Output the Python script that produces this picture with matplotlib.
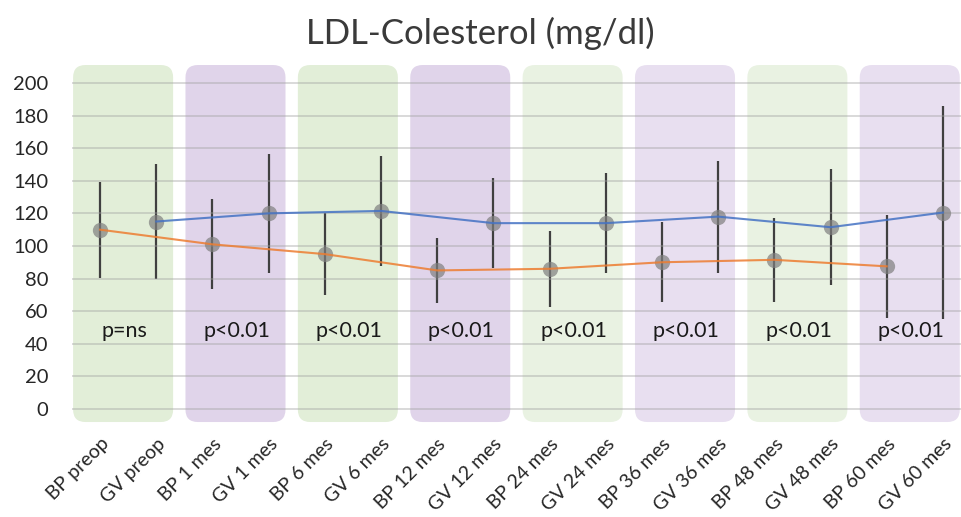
# ------------------------------------------------------------------------------
# LDL-Colesterol over time, BP vs GV, mean +/- sd with p-value per pair
# ------------------------------------------------------------------------------

from matplotlib import pylab as plt
from matplotlib import rcParams as rcp
from matplotlib.patches import FancyBboxPatch
import numpy as np

rcp['font.family'] = ['Lato', 'DejaVu Sans']

# ------------------------------------------------------------------------------
# Data
# ------------------------------------------------------------------------------

labels = ['BP preop', 'GV preop', 'BP 1 mes', 'GV 1 mes', 'BP 6 mes', 'GV 6 mes',
          'BP 12 mes', 'GV 12 mes', 'BP 24 mes', 'GV 24 mes', 'BP 36 mes', 'GV 36 mes',
          'BP 48 mes', 'GV 48 mes', 'BP 60 mes', 'GV 60 mes']

bp_mean = [110, 101, 95, 85, 86, 90, 91.5, 87.5]
bp_sd = [29.5, 27.7, 25.2, 20, 23.2, 24.5, 25.7, 31.6]

gv_mean = [115, 120, 121.5, 114, 114, 118, 111.5, 120.5]
gv_sd = [35, 36.5, 33.5, 27.7, 30.8, 34.3, 35.7, 65.3]

p_labels = ['p=ns', 'p<0.01', 'p<0.01', 'p<0.01', 'p<0.01', 'p<0.01', 'p<0.01', 'p<0.01']

box_colors = ['#e2eed8', '#e0d4ea', '#e2eed8', '#e0d4ea',
              '#e9f2e2', '#e8dff0', '#e9f2e2', '#e8dff0']

x_bp = np.arange(0, len(labels), 2)
x_gv = np.arange(1, len(labels), 2)

# ------------------------------------------------------------------------------
# Plot
# ------------------------------------------------------------------------------

fig = plt.figure(figsize=(9.61, 5.17), dpi=100)
ax = fig.add_axes([0.0749, 0.1774, 0.9355, 0.700])
ax.set_xlim(-0.5, 15.5)
ax.set_ylim(-10, 212)

# background boxes, one per BP/GV pair (rounded in pixels)
aspect = (222. / 362.) / (16. / 899.)
for k, c in enumerate(box_colors):
    box = FancyBboxPatch((2 * k - 0.48, -8), 1.78, 219,
                         boxstyle="round,pad=0,rounding_size=0.22",
                         mutation_aspect=aspect, fc=c, ec='none',
                         zorder=0, clip_on=False)
    ax.add_patch(box)

ax.set_yticks(np.arange(0, 201, 20))
ax.grid(axis='y', color='#a0a0a0', alpha=0.5, lw=1.1, zorder=1)
ax.set_axisbelow(False)

ax.errorbar(x_bp, bp_mean, yerr=bp_sd, fmt='none', ecolor='#404040', elinewidth=1.6, capsize=0, zorder=2)
ax.errorbar(x_gv, gv_mean, yerr=gv_sd, fmt='none', ecolor='#404040', elinewidth=1.6, capsize=0, zorder=2)

ax.plot(x_bp, bp_mean, 'o', color='#7f7f7f', alpha=0.7, ms=11, mew=0, zorder=3)
ax.plot(x_gv, gv_mean, 'o', color='#7f7f7f', alpha=0.7, ms=11, mew=0, zorder=3)

ax.plot(x_bp, bp_mean, color='#ED7D31', lw=1.5, alpha=0.85, zorder=4)
ax.plot(x_gv, gv_mean, color='#4472C4', lw=1.5, alpha=0.85, zorder=4)

for k, p in enumerate(p_labels):
    ax.text(2 * k + 0.43, 48, p, ha='center', va='center', fontsize=15.5, color='#1a1a1a', zorder=5)

ax.set_xticks(np.arange(len(labels)))
ax.set_xticklabels(labels, rotation=45, ha='right', rotation_mode='anchor', fontsize=14, color='#262626')
ax.tick_params(axis='x', length=0, pad=7)
ax.tick_params(axis='y', length=0, pad=17, labelsize=14.5, labelcolor='#262626')
for s in ax.spines.values():
    s.set_visible(False)

fig.text(0.5, 0.936, 'LDL-Colesterol (mg/dl)', ha='center', va='center', fontsize=25, color='#3a3a3a')

plt.savefig('out.png', dpi=100)
